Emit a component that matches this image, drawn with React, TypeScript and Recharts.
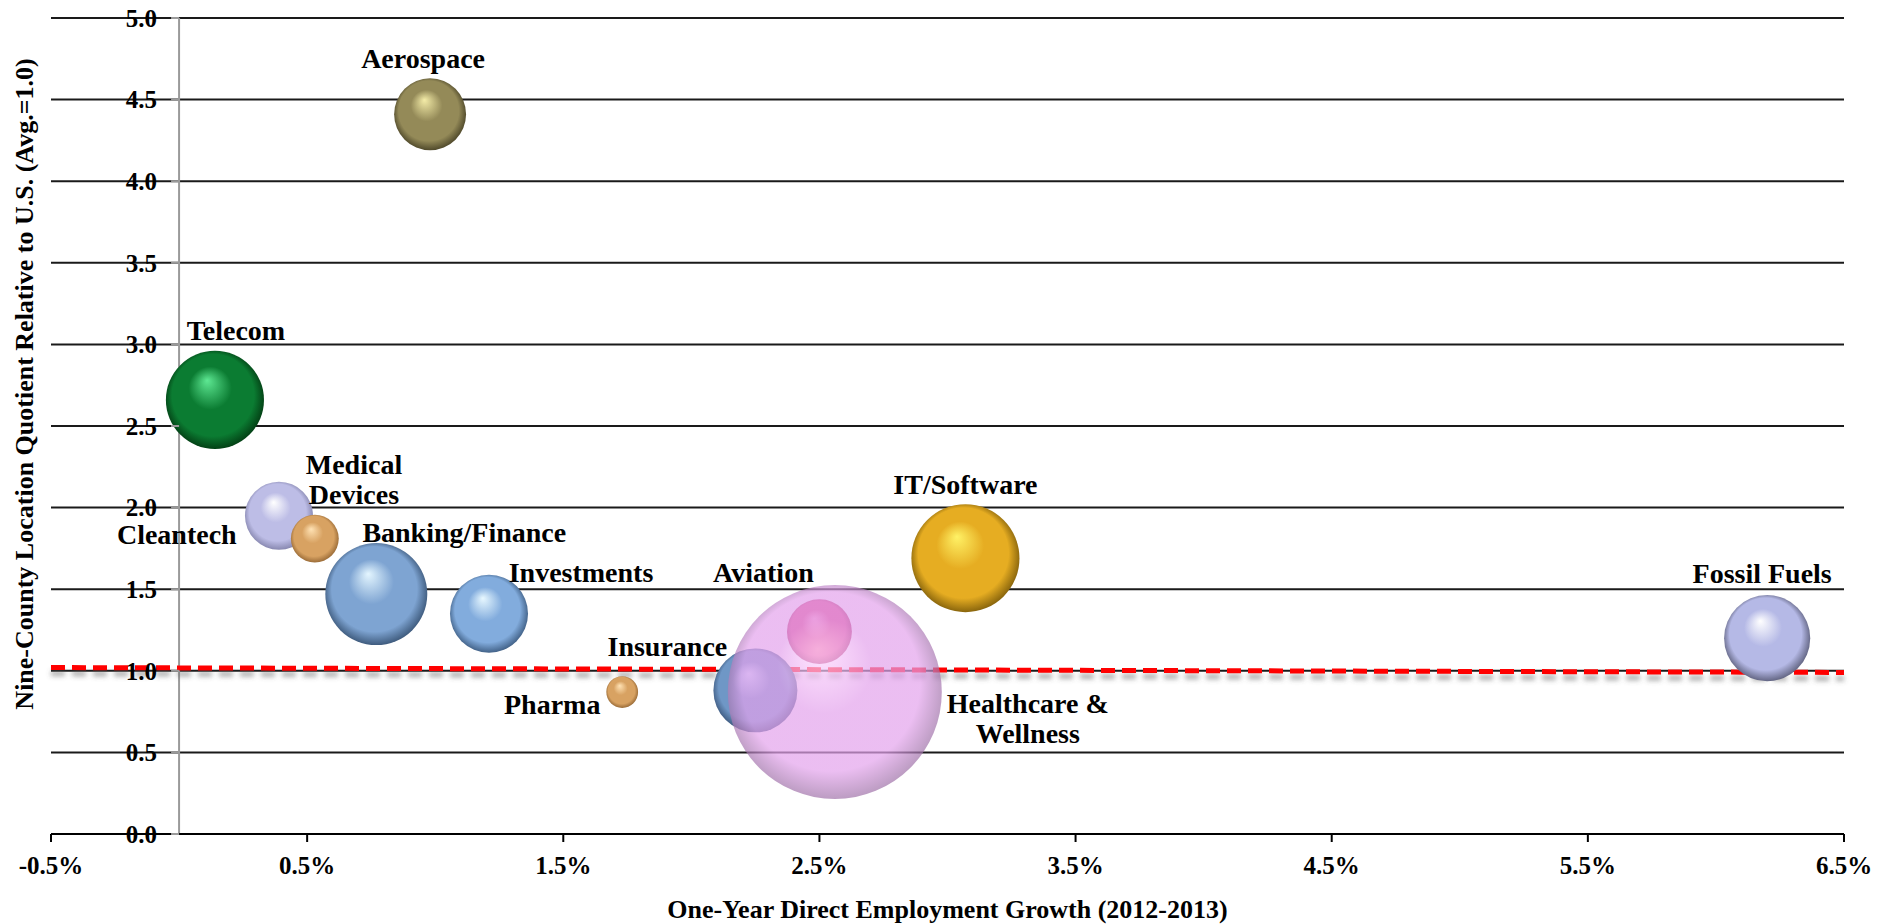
import React from "react";
import { ScatterChart, Scatter, XAxis, YAxis, ZAxis, CartesianGrid, ReferenceLine, Label } from "recharts";

// industry clusters
const industries = [
  "Aerospace",
  "Telecom",
  "Medical Devices",
  "Cleantech",
  "Banking/Finance",
  "Investments",
  "Pharma",
  "Insurance",
  "Aviation",
  "IT/Software",
  "Fossil Fuels",
  "Healthcare & Wellness",
];
// one-year direct employment growth 2012-2013 (%)
const employmentGrowth = [0.98, 0.14, 0.39, 0.53, 0.77, 1.21, 1.73, 2.25, 2.5, 3.07, 6.2, 2.56];
// nine-county location quotient (US avg = 1.0)
const locationQuotient = [4.41, 2.66, 1.95, 1.81, 1.47, 1.35, 0.87, 0.88, 1.24, 1.69, 1.2, 0.87];
// relative cluster size (bubble area)
const clusterSize = [11.3, 21, 10.1, 5, 22.7, 13.3, 2.2, 15.4, 9.2, 25.5, 16.2, 100];

const xTicks = [-0.5, 0.5, 1.5, 2.5, 3.5, 4.5, 5.5, 6.5];
const yTicks = [0, 0.5, 1, 1.5, 2, 2.5, 3, 3.5, 4, 4.5, 5];
// U.S. average reference (dashed red)
const usAverage = [
  { x: -0.5, y: 1.02 },
  { x: 6.5, y: 0.99 },
];

const data = industries.map((name, i) => ({
  name,
  growth: employmentGrowth[i],
  lq: locationQuotient[i],
  size: clusterSize[i],
}));

const FONT = "'Liberation Serif', 'Times New Roman', serif";
const W = 1890;
const H = 924;
const M = { top: 18, right: 46, bottom: 0, left: 50 };
const Y_W = 1;
const PLOT_LEFT = M.left + Y_W;
const PLOT_W = W - PLOT_LEFT - M.right;
const ZERO_X = PLOT_LEFT + ((0 - xTicks[0]) / (xTicks[xTicks.length - 1] - xTicks[0])) * PLOT_W;

// [highlight, base, shade]
const palette: Record<string, [string, string, string]> = {
  Aerospace: ["#f4eca8", "#948a58", "#36311a"],
  Telecom: ["#5ee893", "#0b7c32", "#002a0a"],
  "Medical Devices": ["#ffffff", "#bdbde6", "#74749c"],
  Cleantech: ["#ffe2b4", "#d8a262", "#845828"],
  "Banking/Finance": ["#e4f6ff", "#7ea4d2", "#27405e"],
  Investments: ["#e8f8ff", "#82acdd", "#2a4668"],
  Pharma: ["#ffe2b4", "#d8a262", "#845828"],
  Insurance: ["#c8e4ff", "#6f97c6", "#2c4466"],
  Aviation: ["#ff9cc4", "#e04c88", "#9c2858"],
  "IT/Software": ["#fff266", "#e6ad22", "#664a04"],
  "Fossil Fuels": ["#ffffff", "#b5b9e6", "#44465e"],
  "Healthcare & Wellness": ["#ffd8ff", "#e3a2ec", "#86608f"],
};

// label offsets from bubble centre
const labelLayout: Record<string, { dx: number; dy: number }> = {
  Aerospace: { dx: -7, dy: -56 },
  Telecom: { dx: 21, dy: -70 },
  "Medical Devices": { dx: 75, dy: -52 },
  Cleantech: { dx: -138, dy: -4 },
  "Banking/Finance": { dx: 88, dy: -62 },
  Investments: { dx: 92, dy: -41 },
  Pharma: { dx: -70, dy: 12 },
  Insurance: { dx: -88, dy: -44 },
  Aviation: { dx: -56, dy: -59 },
  "IT/Software": { dx: 0, dy: -74 },
  "Fossil Fuels": { dx: -5, dy: -65 },
  "Healthcare & Wellness": { dx: 193, dy: 11 },
};
const labelLines: Record<string, string[]> = {
  "Medical Devices": ["Medical", "Devices"],
  "Healthcare & Wellness": ["Healthcare &", "Wellness"],
};

const gid = (name: string) => "sph-" + name.replace(/[^A-Za-z]/g, "");

const radiusOf = (p: any) => (p.width ? p.width / 2 : Math.sqrt(Math.max(p.size || 0, 0) / Math.PI));

const Bubble = (props: any) => {
  const { cx, cy, payload } = props;
  const r = radiusOf(props);
  const [hi, base, shade] = palette[payload.name];
  const id = gid(payload.name);
  const translucent = payload.name === "Healthcare & Wellness";
  return (
    <g>
      <defs>
        <radialGradient id={id} cx="50%" cy="50%" r="55%" fx="42%" fy="30%">
          <stop offset="0%" stopColor={hi} />
          <stop offset="40%" stopColor={base} />
          <stop offset="76%" stopColor={base} />
          <stop offset="100%" stopColor={shade} />
        </radialGradient>
      </defs>
      <circle cx={cx} cy={cy} r={r} fill={`url(#${id})`} fillOpacity={translucent ? 0.7 : 1} />
    </g>
  );
};

const BubbleLabel = (props: any) => {
  const { cx, cy, payload } = props;
  const lay = labelLayout[payload.name];
  const lines = labelLines[payload.name] || [payload.name];
  return (
    <text
      x={cx + lay.dx}
      y={cy + lay.dy}
      textAnchor="middle"
      fontFamily={FONT}
      fontWeight={700}
      fontSize={28}
      fill="#000"
    >
      {lines.map((l, i) => (
        <tspan key={i} x={cx + lay.dx} dy={i === 0 ? "0.35em" : 30}>
          {l}
        </tspan>
      ))}
    </text>
  );
};

const YTick = (props: any) => {
  const { y, payload } = props;
  return (
    <g>
      <line x1={ZERO_X - 8} x2={ZERO_X} y1={y} y2={y} stroke="#9a9a9a" strokeWidth={2} />
      <text x={ZERO_X - 22} y={y} dy="0.35em" textAnchor="end" fontFamily={FONT} fontWeight={700} fontSize={25} fill="#000">
        {Number(payload.value).toFixed(1)}
      </text>
    </g>
  );
};

const AverageLine = (props: any) => {
  const { x1, y1, x2, y2 } = props;
  return (
    <g>
      <defs>
        <filter id="avgShadow" x="-5%" y="-200%" width="110%" height="500%">
          <feGaussianBlur stdDeviation="2.5" />
        </filter>
      </defs>
      <line x1={x1} y1={y1 + 6} x2={x2} y2={y2 + 6} stroke="#555" strokeOpacity={0.5} strokeWidth={5} strokeDasharray="14 7" filter="url(#avgShadow)" />
      <line x1={x1} y1={y1} x2={x2} y2={y2} stroke="#ff0000" strokeWidth={5} strokeDasharray="14 7" />
    </g>
  );
};

const YTitle = () => (
  <text
    x={24}
    y={384}
    transform="rotate(-90 24 384)"
    textAnchor="middle"
    dominantBaseline="central"
    fontFamily={FONT}
    fontWeight={700}
    fontSize={26}
    fill="#000"
  >
    Nine-County Location Quotient Relative to U.S. (Avg.=1.0)
  </text>
);

export default function App() {
  return (
    <div style={{ position: "absolute", left: 0, top: 0, width: W, height: H, background: "#fff" }}>
      <ScatterChart width={W} height={H} margin={M}>
        <CartesianGrid vertical={false} stroke="#1a1a1a" strokeWidth={2} />
        <ReferenceLine x={0} stroke="#9a9a9a" strokeWidth={2} />
        <XAxis
          type="number"
          dataKey="growth"
          domain={[-0.5, 6.5]}
          ticks={xTicks}
          interval={0}
          height={90}
          tickSize={8}
          tickMargin={14}
          axisLine={{ stroke: "#000", strokeWidth: 2 }}
          tickLine={{ stroke: "#000", strokeWidth: 2 }}
          tickFormatter={(v: number) => `${v.toFixed(1)}%`}
          tick={{ fontSize: 25, fontWeight: 700, fill: "#000", fontFamily: FONT }}
        >
          <Label
            value="One-Year Direct Employment Growth (2012-2013)"
            position="insideBottom"
            offset={6}
            style={{ fontSize: 26, fontWeight: 700, fill: "#000", fontFamily: FONT }}
          />
        </XAxis>
        <YAxis
          type="number"
          dataKey="lq"
          domain={[0, 5]}
          ticks={yTicks}
          interval={0}
          width={Y_W}
          axisLine={false}
          tickLine={false}
          tick={(p: any) => <YTick {...p} />}
        >
          <Label content={() => <YTitle />} />
        </YAxis>
        <ZAxis type="number" dataKey="size" domain={[0, 100]} range={[0, Math.PI * 107 * 107]} />
        <Scatter data={data} shape={<Bubble />} isAnimationActive={false} />
        <ReferenceLine segment={usAverage} shape={<AverageLine />} ifOverflow="extendDomain" />
        <Scatter data={data} shape={<BubbleLabel />} isAnimationActive={false} />
      </ScatterChart>
    </div>
  );
}
